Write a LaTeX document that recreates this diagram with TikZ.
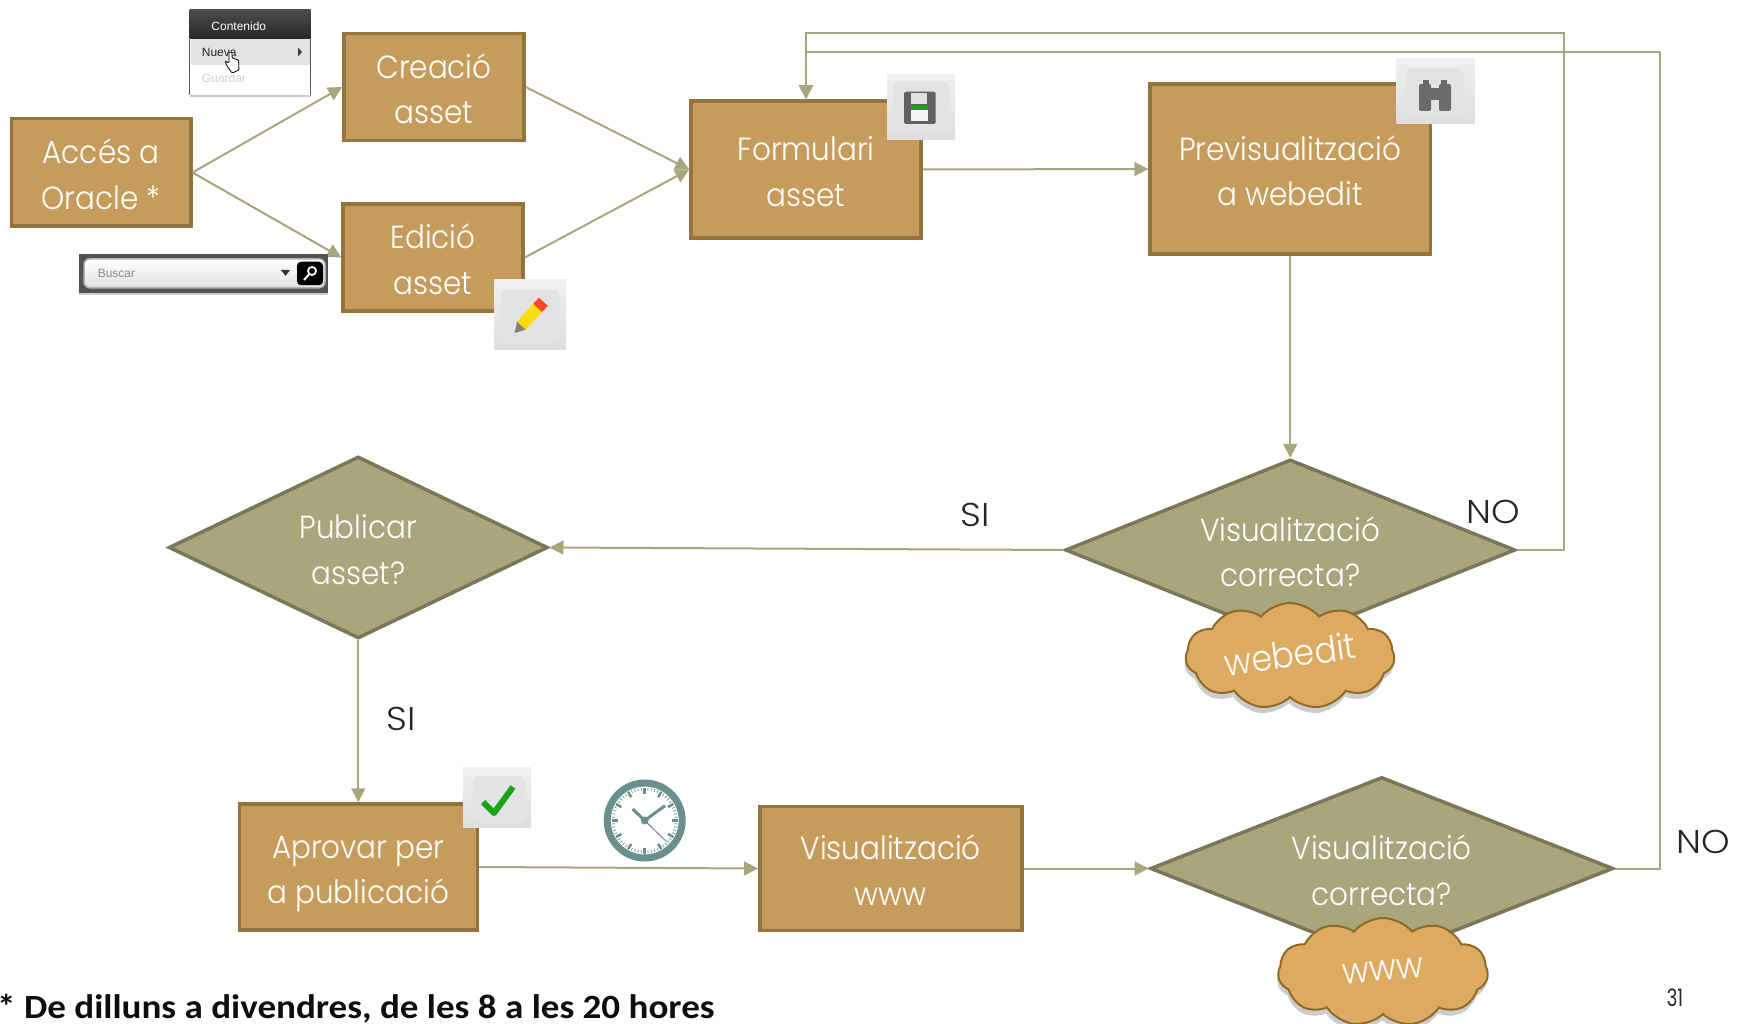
\documentclass[tikz,border=0pt]{standalone}
\usepackage{fontspec}
\usetikzlibrary{positioning, arrows.meta, shapes.geometric, shapes.symbols, shadows}

\newfontfamily\flowfont[FakeStretch=0.92]{Poppins Light}
\newfontfamily\answerfont[FakeStretch=1.1]{Poppins Light}
\newfontfamily\pagefont[FakeStretch=0.75]{Poppins}
\newfontfamily\notefont[FakeStretch=1.09]{Carlito}
\newfontfamily\uifont{Liberation Sans}

\definecolor{boxfill}{HTML}{C69C5D}
\definecolor{boxline}{HTML}{94733F}
\definecolor{olivefill}{HTML}{A9A57C}
\definecolor{oliveline}{HTML}{7A7759}
\definecolor{cloudfill}{HTML}{DCAA60}
\definecolor{cloudline}{HTML}{8E6B27}
\definecolor{clockring}{HTML}{6B8E8E}

\newcommand{\flowstrut}{\rule[-8.8pt]{0pt}{45.5pt}}
\newcommand{\twolines}[2]{\flowstrut #1\\\flowstrut #2}

\tikzset{
	>={Triangle[length=14pt,width=14pt]},
	flowbox/.style={draw=boxline, fill=boxfill, line width=3.5pt, text=white, align=center, inner sep=0pt,
		font=\flowfont\fontsize{32}{45.5}\selectfont},
	flowcheck/.style={diamond, aspect=2.45, draw=oliveline, fill=olivefill, line width=3.5pt, text=white, align=center, inner sep=0pt,
		font=\flowfont\fontsize{32}{45.5}\selectfont},
	flowcloud/.style={cloud, cloud puffs=11, cloud puff arc=100, cloud ignores aspect, draw=cloudline, fill=cloudfill, line width=2pt,
		inner sep=0pt, text=white, drop shadow={shadow xshift=-1pt, shadow yshift=-6pt, opacity=.2, fill=black},
		font=\flowfont\fontsize{36}{40}\selectfont},
	flowlink/.style={color=olivefill, line width=2pt},
	answer/.style={text=black!85, inner sep=0pt, font=\answerfont\fontsize{33}{38}\selectfont},
	icontile/.style={top color=black!6, bottom color=black!13, inner sep=0pt},
	iconpad/.style={rounded corners=6pt, fill=black!11, inner sep=0pt},
	uitext/.style={inner sep=0pt, font=\uifont\fontsize{12}{14}\selectfont},
}

\begin{document}
\begin{tikzpicture}[x=1pt, y=-1pt]
	\useasboundingbox (0,0) rectangle (1745,1024);

	% boxes of the first row
	\node[flowbox, minimum width=179.5pt, minimum height=107.5pt] (acces) at (101,172.5) {\twolines{Accés a}{Oracle *}};
	\node[flowbox, minimum width=180pt, minimum height=107pt] (creacio) at (434,87) {\twolines{Creació}{asset}};
	\node[flowbox, minimum width=180pt, minimum height=107pt] (edicio) at (433,257.5) {\twolines{Edició}{asset}};
	\node[flowbox, minimum width=230pt, minimum height=137pt] (formulari) at (806,169.5) {\twolines{Formulari}{asset}};
	\node[flowbox, minimum width=280.5pt, minimum height=170pt, right=225.5pt of formulari, yshift=.5pt] (previs) {\twolines{Previsualització}{a webedit}};

	% decisions and the rest of the flow
	\node[flowcheck, minimum width=450pt, minimum height=181pt, below=202pt of previs] (vismig) {\twolines{Visualització}{correcta?}};
	\node[flowcheck, minimum width=379pt, minimum height=182pt, left=514pt of vismig, yshift=2.5pt] (publicar) {\twolines{Publicar}{asset?}};
	\node[flowbox, minimum width=238pt, minimum height=126pt, below=162pt of publicar] (aprovar) {\twolines{Aprovar per}{a publicació}};
	\node[flowbox, minimum width=262pt, minimum height=124pt, right=279pt of aprovar, yshift=-1.5pt] (viswww) {\twolines{Visualització}{www}};
	\node[flowcheck, minimum width=463pt, minimum height=183pt, right=125pt of viswww] (visfinal) {\twolines{Visualització}{correcta?}};

	\node[flowcloud, minimum width=209pt, minimum height=106pt] (nubedit) at (1290,656) {\raisebox{4pt}{\rotatebox{8}{webedit}}};
	\node[flowcloud, minimum width=210pt, minimum height=108pt] (nubwww) at (1383,972) {\raisebox{2pt}{\rotatebox{5}{www}}};

	\coordinate (tornada) at (1564,32.7);
	\coordinate (tornadab) at (1660,52.3);

	\draw[flowlink, ->] (acces.east) -- (creacio.west);
	\draw[flowlink, ->] (acces.east) -- (edicio.west);
	\draw[flowlink, ->] (creacio.east) -- (formulari.west);
	\draw[flowlink, ->] (edicio.east) -- (formulari.west);
	\draw[flowlink, ->] (formulari.east) -- (previs.west);
	\draw[flowlink, ->] (previs.south) -- (vismig.north);
	\draw[flowlink, ->] (vismig.west) -- (publicar.east);
	\draw[flowlink, ->] (publicar.south) -- (aprovar.north);
	\draw[flowlink, ->] (aprovar.east) -- (viswww.west);
	\draw[flowlink, ->] (viswww.east) -- (visfinal.west);
	\draw[flowlink, ->] (vismig.east) -| (tornada) -| (formulari.north);
	\draw[flowlink, ->] (visfinal.east) -| (tornadab) -| (formulari.north);

	\node[answer] (sitop) at (975,515) {SI};
	\node[answer] (nomig) at (1493.5,512) {NO};
	\node[answer] (sibaix) at (401,719) {SI};
	\node[answer] (nofinal) at (1703,842) {NO};
	\node[inner sep=0pt, text=black!85, font=\pagefont\fontsize{24}{28}\selectfont] (pagina) at (1675,998) {31};
	\node[anchor=base west, inner sep=0pt, text=black!95, font=\notefont\bfseries\fontsize{34}{38}\selectfont] (nota) at (-3,1018.5)
		{* De dilluns a divendres, de les 8 a les 20 hores};

	% menu
	\node[fill=white, minimum width=121pt, minimum height=85pt, inner sep=0pt,
		drop shadow={shadow xshift=0pt, shadow yshift=-2pt, opacity=.2, fill=black}] (menu) at (250,52.5) {};
	\node[top color=black!70, bottom color=black!85, minimum width=121pt, minimum height=29pt, inner sep=0pt] (menuhead) at (250,24.5) {};
	\node[uitext, text=white] (contenido) at (238.8,26) {Contenido};
	\node[fill=black!11, minimum width=119pt, minimum height=26pt, inner sep=0pt] (menurow) at (250,52) {};
	\draw[black!65, line width=1pt] (menuhead.south west) -- (menu.south west);
	\draw[black!65, line width=1pt] (menuhead.south east) -- (menu.south east);
	\node[uitext, anchor=west, text=black!85] (nueva) at (201.7,52.7) {Nueva};
	\node[uitext, anchor=west, text=black!18] (guardar) at (201.7,78.3) {Guardar};
	\fill[black!75] (298,47.5) -- (302,52) -- (298,56.5) -- cycle;
	\draw[black, fill=white, line width=.8pt, rounded corners=1pt] (229,52) -- (232,52) -- (232,58) -- (238.5,60) -- (239,70) -- (232,73) -- (227,66) -- (225,61) -- (229,63) -- cycle;

	% search bar
	\node[fill=black!68, minimum width=249pt, minimum height=38.5pt, inner sep=0pt,
		drop shadow={shadow xshift=0pt, shadow yshift=-2pt, opacity=.2, fill=black}] (cerca) at (203.5,273.5) {};
	\node[draw=black!30, line width=1.5pt, top color=white, bottom color=black!12, rounded corners=6pt, minimum width=241pt, minimum height=29pt, inner sep=0pt] (cercain) at (204.5,273.3) {};
	\node[uitext, anchor=west, text=black!45] (buscar) at (97.6,273.3) {Buscar};
	\fill[black!80] (281,270) -- (290,270) -- (285.5,276) -- cycle;
	\node[fill=black, rounded corners=4pt, minimum width=26pt, minimum height=23.5pt, inner sep=0pt] (cercabut) at (310,273.5) {};
	\draw[white, line width=1.8pt] (312,271) circle (4);
	\draw[white, line width=2pt] (309,274.5) -- (304,280);

	% icon of the pencil
	\node[icontile, minimum width=72pt, minimum height=69pt] (tilepencil) at (530,314.5) {};
	\node[iconpad, minimum width=59pt, minimum height=53pt] (padpencil) at (530,316.5) {};
	\fill[black!50] (514.7,333) -- (517.1,321.55) -- (525.9,329.65) -- cycle;
	\fill[yellow!80!orange] (517.1,321.55) -- (533.2,303.85) -- (542,311.95) -- (525.9,329.65) -- cycle;
	\fill[red!70!orange!85] (533.2,303.85) -- (539,297.65) -- (547.8,305.75) -- (542,311.95) -- cycle;

	% icon of the floppy
	\node[icontile, minimum width=68pt, minimum height=65pt] (tilesave) at (921,107.5) {};
	\node[iconpad, minimum width=56pt, minimum height=52pt] (padsave) at (921,107.5) {};
	\fill[black!62, rounded corners=2pt] (904,91.7) rectangle (935.6,124);
	\fill[black!12] (911,93) rectangle (927,104);
	\fill[green!55!black!85] (910.5,106.5) rectangle (928,110.5);
	\fill[black!4] (910.5,110.5) rectangle (928,120.7);

	% icon of the binoculars
	\node[icontile, minimum width=78pt, minimum height=65pt] (tilefind) at (1435.5,91.5) {};
	\node[iconpad, minimum width=57pt, minimum height=46pt] (padfind) at (1435,91) {};
	\fill[black!58, rounded corners=2pt] (1419,84) rectangle (1431,111);
	\fill[black!58, rounded corners=2pt] (1439,84) rectangle (1451,111);
	\fill[black!58] (1423,80) rectangle (1429,90);
	\fill[black!58] (1441,80) rectangle (1447,90);
	\fill[black!58] (1431,88) rectangle (1439,100);

	% icon of the check
	\node[icontile, minimum width=68pt, minimum height=60pt] (tilecheck) at (497,797) {};
	\node[iconpad, minimum width=52pt, minimum height=47pt] (padcheck) at (499,799.5) {};
	\draw[green!60!black!90, line width=6pt, line join=round] (483,802) -- (494,813) -- (513,787);

	% clock
	\node[circle, draw=clockring, fill=white, line width=7pt, minimum size=75pt, inner sep=0pt] (rellotge) at (644.7,820.5) {};
	\foreach \a in {0,30,...,330} {
		\draw[clockring, line width=2.5pt] (rellotge.center) ++(\a:27) -- ++(\a:6);
	}
	\foreach \a in {6,12,...,354} {
		\draw[clockring, line width=.7pt] (rellotge.center) ++(\a:30) -- ++(\a:3);
	}
	\draw[clockring, line width=3pt] (rellotge.center) -- (632.6,809);
	\draw[clockring, line width=3pt] (rellotge.center) -- (665,805.7);
	\draw[clockring, line width=1pt] (rellotge.center) -- (666.5,841.7);
	\fill[clockring] (rellotge.center) circle (4);
\end{tikzpicture}
\end{document}
